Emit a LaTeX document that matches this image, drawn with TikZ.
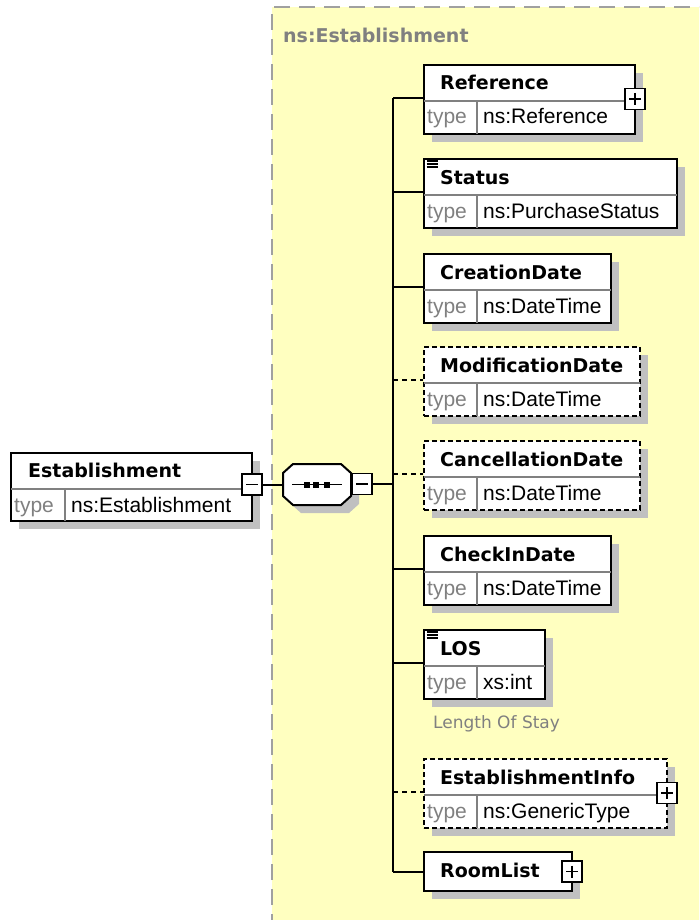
\documentclass[tikz,border=0pt]{standalone}
\usepackage{fontspec}
\usetikzlibrary{calc,shadows}
\newfontfamily\headfont{DejaVu Sans}
\newfontfamily\typefont{Liberation Sans}
\definecolor{paneyellow}{RGB}{255,255,192}
\definecolor{panedash}{RGB}{160,160,160}
\definecolor{shadowgray}{RGB}{192,192,192}
\definecolor{labelgray}{RGB}{128,128,128}

% element with a header row and a "type" row
\newcommand\typedelement[7]{%
  \node[#2, minimum width=#5pt, minimum height=69pt] (#1) at (#3,#4) {};
  \draw[divline] ($(#1.north west)+(1,37)$) -- ($(#1.north east)+(-1,37)$);
  \draw[divline] ($(#1.north west)+(54,37)$) -- ($(#1.south west)+(54,-1)$);
  \node[headtext] (#1-name) at ($(#1.north west)+(17,26)$) {#6};
  \node[keytext] (#1-key) at ($(#1.north west)+(4,60)$) {type};
  \node[valtext] (#1-type) at ($(#1.north west)+(60,60)$) {#7};
  \coordinate (#1-in) at ($(#1.north west)+(0,34)$);
}
% enumeration marker in the top left corner of an element
\newcommand\enummarker[1]{%
  \foreach \dy in {3,6,9}
    \draw[iconline] ($(#1.north west)+(3.5,\dy)$) -- ++(11,0);
}
% expand / collapse buttons
\newcommand\plussign[1]{%
  \draw[sign] ($(#1.center)+(-6,0)$) -- ($(#1.center)+(6,0)$);
  \draw[sign] ($(#1.center)+(0,-6)$) -- ($(#1.center)+(0,6)$);
}
\newcommand\minussign[1]{%
  \draw[sign] ($(#1.center)+(-6,0)$) -- ($(#1.center)+(6,0)$);
}

\begin{document}
\begin{tikzpicture}[x=1pt,y=-1pt,
  elembox/.style={draw=black, line width=2pt, fill=white, inner sep=0pt,
    anchor=north west,
    drop shadow={shadow xshift=8pt, shadow yshift=-8pt, fill=shadowgray, opacity=1}},
  optbox/.style={elembox, dash pattern=on 5pt off 3pt},
  divline/.style={draw=labelgray, line width=1.3pt},
  headtext/.style={anchor=base west, inner sep=0pt,
    font=\headfont\bfseries\fontsize{19}{22}\selectfont},
  keytext/.style={anchor=base west, inner sep=0pt, text=labelgray,
    font=\typefont\fontsize{21}{24}\selectfont},
  valtext/.style={anchor=base west, inner sep=0pt,
    font=\typefont\fontsize{21}{24}\selectfont},
  doctext/.style={anchor=base west, inner sep=0pt, text=labelgray,
    font=\headfont\fontsize{17}{20}\selectfont},
  titletext/.style={anchor=base west, inner sep=0pt, text=labelgray,
    font=\headfont\bfseries\fontsize{19}{22}\selectfont},
  iconline/.style={draw=black, line width=1.4pt},
  pmbox/.style={draw=black, line width=1.8pt, fill=white, inner sep=0pt,
    minimum width=20pt, minimum height=21pt},
  sign/.style={draw=black, line width=1.6pt},
  link/.style={draw=black, line width=2pt},
  optlink/.style={link, dash pattern=on 5pt off 4pt}]

\useasboundingbox (0,0) rectangle (699,920);
\clip (0,0) rectangle (699,920);
\fill[white] (0,0) rectangle (699,920);

% complex type pane
\fill[paneyellow] (272,7) rectangle (710,930);
\draw[panedash, line width=2pt, dash pattern=on 16pt off 9pt] (272,930) -- (272,7) -- (710,7);
\node[titletext] (pane-title) at (283,43) {ns:Establishment};

% root element
\node[elembox, minimum width=241pt, minimum height=68pt] (root) at (10,452) {};
\draw[divline] ($(root.north west)+(1,37)$) -- ($(root.north east)+(-1,37)$);
\draw[divline] ($(root.north west)+(55,37)$) -- ($(root.south west)+(55,-1)$);
\node[headtext] (root-name) at ($(root.north west)+(18,25)$) {Establishment};
\node[keytext] (root-key) at ($(root.north west)+(4,60)$) {type};
\node[valtext] (root-type) at ($(root.north west)+(61,60)$) {ns:Establishment};
\node[pmbox] (root-pm) at (252,484.5) {};
\minussign{root-pm}

% sequence compositor
\fill[shadowgray, shift={(8,8)}] (293,464) -- (341,464) -- (351,473) -- (351,496)
  -- (341,505) -- (293,505) -- (283,496) -- (283,473) -- cycle;
\draw[fill=white, line width=2pt] (293,464) -- (341,464) -- (351,473) -- (351,496)
  -- (341,505) -- (293,505) -- (283,496) -- (283,473) -- cycle;
\node[inner sep=0pt, minimum width=68pt, minimum height=41pt] (seq) at (317,484.5) {};
\draw[line width=1.6pt] ($(seq.center)+(-25,0)$) -- ($(seq.center)+(25,0)$);
\foreach \dx in {-10.5,-1,9.5}
  \fill ($(seq.center)+(\dx-3,-3)$) rectangle ($(seq.center)+(\dx+3,3)$);
\node[pmbox] (seq-pm) at (362,484) {};
\minussign{seq-pm}
\coordinate (bus) at (393,484);

% child elements
\typedelement{ref}{elembox}{423}{64}{211}{Reference}{ns:Reference}
\node[pmbox] (ref-pm) at ($(ref.north east)+(-1,35)$) {};
\plussign{ref-pm}

\typedelement{stat}{elembox}{423}{158}{253}{Status}{ns:PurchaseStatus}
\enummarker{stat}

\typedelement{creat}{elembox}{423}{253}{187}{CreationDate}{ns:DateTime}
\typedelement{modif}{optbox}{423}{346}{216}{ModificationDate}{ns:DateTime}
\typedelement{cancel}{optbox}{423}{440}{216}{CancellationDate}{ns:DateTime}
\typedelement{checkin}{elembox}{423}{535}{187}{CheckInDate}{ns:DateTime}

\typedelement{los}{elembox}{423}{629}{121}{LOS}{xs:int}
\enummarker{los}
\node[doctext] (los-doc) at (433,728) {Length Of Stay};

\typedelement{estinfo}{optbox}{423}{758}{243}{EstablishmentInfo}{ns:GenericType}
\node[pmbox] (estinfo-pm) at ($(estinfo.north east)+(-1,35)$) {};
\plussign{estinfo-pm}

\node[elembox, minimum width=148pt, minimum height=39pt] (room) at (423,851) {};
\node[headtext] (room-name) at ($(room.north west)+(17,26)$) {RoomList};
\node[pmbox] (room-pm) at ($(room.east)+(-1,0)$) {};
\plussign{room-pm}
\coordinate (room-in) at (room.west);

% connectors
\draw[link] (root-pm.east) -- (root-pm.east -| seq.west);
\draw[link] (seq-pm.east) -- (bus);
\draw[link] (bus |- ref-in) -- (bus |- room-in);
\foreach \el in {ref,stat,creat,checkin,los}
  \draw[link] (bus |- \el-in) -- (\el-in);
\foreach \el in {modif,cancel,estinfo}
  \draw[optlink] (bus |- \el-in) -- (\el-in);
\draw[link] (bus |- room-in) -- (room-in);
\end{tikzpicture}
\end{document}
